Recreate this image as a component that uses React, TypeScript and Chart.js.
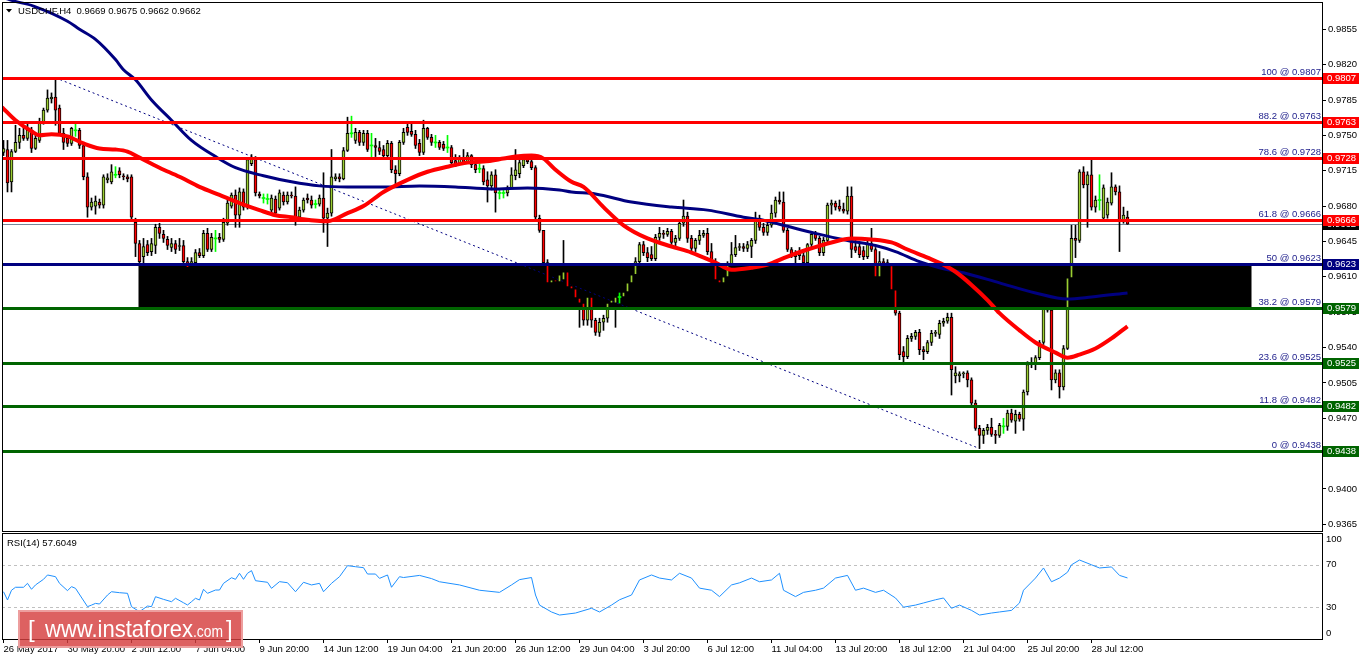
import React, { useEffect, useRef } from 'react';
import { Chart, registerables } from 'chart.js';

Chart.register(...registerables);

// ---------- Candles (USDCHF H4) ----------
const openP = [
  0.9733,0.9736,0.9704,0.9734,0.9743,0.9750,0.9747,0.9755,0.9737,0.9745,
  0.9763,0.9775,0.9786,0.9788,0.9777,0.9752,0.9747,0.9742,0.9755,0.9755,
  0.9740,0.9709,0.9679,0.9680,0.9684,0.9681,0.9706,0.9704,0.9711,0.9715,
  0.9710,0.9709,0.9709,0.9664,0.9643,0.9630,0.9642,0.9635,0.9641,0.9659,
  0.9652,0.9647,0.9639,0.9643,0.9640,0.9641,0.9625,0.9620,0.9624,0.9634,
  0.9631,0.9653,0.9637,0.9648,0.9649,0.9647,0.9663,0.9680,0.9691,0.9671,
  0.9694,0.9679,0.9722,0.9726,0.9692,0.9688,0.9687,0.9676,0.9687,0.9678,
  0.9691,0.9684,0.9691,0.9690,0.9669,0.9676,0.9688,0.9686,0.9682,0.9682,
  0.9688,0.9668,0.9673,0.9707,0.9709,0.9707,0.9735,0.9752,0.9745,0.9753,
  0.9743,0.9752,0.9740,0.9740,0.9738,0.9736,0.9730,0.9742,0.9716,0.9712,
  0.9743,0.9758,0.9754,0.9751,0.9742,0.9733,0.9757,0.9748,0.9743,0.9743,
  0.9741,0.9738,0.9738,0.9725,0.9722,0.9727,0.9723,0.9730,0.9721,0.9717,
  0.9717,0.9706,0.9700,0.9711,0.9693,0.9693,0.9693,0.9698,0.9710,0.9712,
  0.9720,0.9726,0.9724,0.9718,0.9668,0.9656,0.9624,0.9604,0.9607,0.9605,
  0.9607,0.9615,0.9601,0.9598,0.9589,0.9584,0.9567,0.9590,0.9567,0.9555,
  0.9565,0.9569,0.9584,0.9584,0.9590,0.9590,0.9595,0.9604,0.9612,0.9625,
  0.9642,0.9634,0.9632,0.9628,0.9649,0.9653,0.9652,0.9655,0.9644,0.9648,
  0.9663,0.9670,0.9648,0.9638,0.9646,0.9651,0.9653,0.9635,0.9625,0.9607,
  0.9604,0.9610,0.9622,0.9632,0.9639,0.9640,0.9638,0.9640,0.9646,0.9668,
  0.9659,0.9654,0.9661,0.9673,0.9686,0.9684,0.9656,0.9637,0.9632,0.9634,
  0.9631,0.9624,0.9642,0.9652,0.9648,0.9634,0.9646,0.9681,0.9683,0.9680,
  0.9677,0.9675,0.9690,0.9640,0.9640,0.9636,0.9630,0.9643,0.9637,0.9610,
  0.9625,0.9624,0.9621,0.9597,0.9574,0.9536,0.9531,0.9549,0.9551,0.9555,
  0.9538,0.9536,0.9545,0.9554,0.9553,0.9564,0.9566,0.9570,0.9512,0.9512,
  0.9514,0.9515,0.9508,0.9485,0.9460,0.9453,0.9458,0.9461,0.9454,0.9453,
  0.9462,0.9462,0.9475,0.9467,0.9474,0.9469,0.9496,0.9523,0.9524,0.9530,
  0.9545,0.9580,0.9577,0.9508,0.9515,0.9501,0.9539,0.9609,0.9648,0.9646,
  0.9714,0.9701,0.9711,0.9679,0.9686,0.9668,0.9671,0.9683,0.9699,0.9694,
  0.9666,0.9669
];
const highP = [
  0.9745,0.9745,0.9736,0.9760,0.9757,0.9760,0.9763,0.9758,0.9750,0.9767,
  0.9777,0.9795,0.9792,0.9807,0.9780,0.9757,0.9750,0.9758,0.9761,0.9757,
  0.9742,0.9713,0.9688,0.9690,0.9687,0.9711,0.9712,0.9721,0.9719,0.9718,
  0.9712,0.9711,0.9711,0.9668,0.9646,0.9648,0.9646,0.9648,0.9662,0.9663,
  0.9656,0.9650,0.9648,0.9646,0.9648,0.9646,0.9629,0.9629,0.9637,0.9638,
  0.9656,0.9658,0.9653,0.9656,0.9653,0.9668,0.9686,0.9693,0.9696,0.9698,
  0.9697,0.9728,0.9731,0.9729,0.9694,0.9692,0.9692,0.9691,0.9690,0.9696,
  0.9694,0.9694,0.9694,0.9699,0.9679,0.9688,0.9692,0.9690,0.9686,0.9691,
  0.9713,0.9678,0.9736,0.9712,0.9712,0.9738,0.9768,0.9769,0.9757,0.9755,
  0.9755,0.9755,0.9752,0.9747,0.9744,0.9740,0.9745,0.9744,0.9720,0.9745,
  0.9757,0.9762,0.9761,0.9755,0.9746,0.9765,0.9758,0.9751,0.9750,0.9745,
  0.9744,0.9750,0.9740,0.9731,0.9730,0.9736,0.9733,0.9731,0.9723,0.9722,
  0.9720,0.9714,0.9714,0.9716,0.9696,0.9696,0.9700,0.9718,0.9736,0.9726,
  0.9728,0.9729,0.9731,0.9720,0.9671,0.9656,0.9627,0.9611,0.9610,0.9617,
  0.9646,0.9619,0.9605,0.9599,0.9591,0.9587,0.9592,0.9594,0.9569,0.9569,
  0.9572,0.9587,0.9590,0.9592,0.9594,0.9597,0.9607,0.9614,0.9629,0.9644,
  0.9645,0.9639,0.9640,0.9652,0.9659,0.9656,0.9658,0.9657,0.9651,0.9666,
  0.9686,0.9674,0.9651,0.9648,0.9656,0.9656,0.9658,0.9643,0.9628,0.9609,
  0.9613,0.9625,0.9644,0.9651,0.9643,0.9643,0.9645,0.9648,0.9674,0.9671,
  0.9663,0.9664,0.9681,0.9689,0.9694,0.9694,0.9658,0.9639,0.9636,0.9639,
  0.9637,0.9643,0.9654,0.9655,0.9650,0.9649,0.9683,0.9686,0.9685,0.9686,
  0.9683,0.9699,0.9699,0.9646,0.9644,0.9640,0.9646,0.9658,0.9639,0.9635,
  0.9628,0.9627,0.9623,0.9599,0.9576,0.9541,0.9552,0.9554,0.9557,0.9558,
  0.9541,0.9547,0.9557,0.9557,0.9567,0.9569,0.9574,0.9574,0.9521,0.9516,
  0.9516,0.9517,0.9510,0.9488,0.9463,0.9460,0.9464,0.9470,0.9458,0.9465,
  0.9470,0.9478,0.9479,0.9478,0.9476,0.9498,0.9526,0.9530,0.9532,0.9547,
  0.9582,0.9583,0.9581,0.9518,0.9518,0.9542,0.9612,0.9661,0.9661,0.9716,
  0.9719,0.9714,0.9726,0.9690,0.9711,0.9701,0.9688,0.9713,0.9701,0.9700,
  0.9679,0.9675
];
const lowP = [
  0.9730,0.9694,0.9694,0.9733,0.9737,0.9745,0.9745,0.9733,0.9736,0.9743,
  0.9761,0.9773,0.9782,0.9760,0.9750,0.9736,0.9739,0.9740,0.9749,0.9737,
  0.9706,0.9669,0.9676,0.9672,0.9678,0.9678,0.9703,0.9702,0.9708,0.9708,
  0.9706,0.9704,0.9666,0.9630,0.9622,0.9622,0.9631,0.9631,0.9633,0.9648,
  0.9644,0.9637,0.9635,0.9633,0.9636,0.9621,0.9615,0.9617,0.9621,0.9629,
  0.9629,0.9635,0.9635,0.9635,0.9644,0.9645,0.9661,0.9678,0.9659,0.9659,
  0.9676,0.9677,0.9720,0.9690,0.9688,0.9683,0.9682,0.9672,0.9670,0.9676,
  0.9681,0.9682,0.9688,0.9661,0.9666,0.9674,0.9683,0.9678,0.9678,0.9680,
  0.9654,0.9640,0.9670,0.9705,0.9704,0.9706,0.9734,0.9748,0.9742,0.9740,
  0.9740,0.9734,0.9728,0.9729,0.9731,0.9728,0.9728,0.9713,0.9701,0.9710,
  0.9741,0.9750,0.9749,0.9737,0.9730,0.9731,0.9746,0.9740,0.9738,0.9736,
  0.9735,0.9733,0.9720,0.9719,0.9721,0.9721,0.9722,0.9718,0.9713,0.9713,
  0.9701,0.9684,0.9696,0.9674,0.9687,0.9688,0.9690,0.9697,0.9706,0.9708,
  0.9718,0.9722,0.9716,0.9666,0.9654,0.9622,0.9600,0.9601,0.9603,0.9602,
  0.9602,0.9597,0.9595,0.9586,0.9560,0.9562,0.9562,0.9560,0.9552,0.9551,
  0.9557,0.9565,0.9582,0.9560,0.9584,0.9585,0.9593,0.9602,0.9610,0.9622,
  0.9631,0.9625,0.9626,0.9626,0.9646,0.9648,0.9650,0.9642,0.9640,0.9646,
  0.9660,0.9644,0.9635,0.9635,0.9642,0.9649,0.9632,0.9622,0.9601,0.9602,
  0.9601,0.9608,0.9620,0.9630,0.9636,0.9635,0.9635,0.9629,0.9643,0.9656,
  0.9651,0.9651,0.9659,0.9669,0.9682,0.9654,0.9635,0.9629,0.9624,0.9627,
  0.9607,0.9607,0.9639,0.9646,0.9631,0.9631,0.9643,0.9672,0.9676,0.9675,
  0.9673,0.9672,0.9629,0.9634,0.9629,0.9627,0.9628,0.9635,0.9609,0.9607,
  0.9621,0.9619,0.9595,0.9572,0.9528,0.9523,0.9529,0.9546,0.9548,0.9533,
  0.9528,0.9534,0.9542,0.9551,0.9549,0.9561,0.9564,0.9493,0.9505,0.9506,
  0.9510,0.9501,0.9483,0.9458,0.9440,0.9445,0.9454,0.9452,0.9445,0.9451,
  0.9455,0.9458,0.9466,0.9455,0.9467,0.9458,0.9493,0.9520,0.9518,0.9528,
  0.9543,0.9575,0.9498,0.9505,0.9490,0.9498,0.9538,0.9607,0.9629,0.9644,
  0.9698,0.9659,0.9676,0.9674,0.9676,0.9666,0.9668,0.9681,0.9691,0.9635,
  0.9663,0.9662
];
const closeP = [
  0.9737,0.9703,0.9734,0.9743,0.9750,0.9747,0.9755,0.9737,0.9747,0.9762,
  0.9775,0.9787,0.9788,0.9775,0.9752,0.9743,0.9742,0.9757,0.9755,0.9740,
  0.9709,0.9679,0.9684,0.9685,0.9681,0.9709,0.9708,0.9714,0.9711,0.9711,
  0.9709,0.9707,0.9669,0.9643,0.9625,0.9640,0.9634,0.9643,0.9659,0.9653,
  0.9648,0.9641,0.9643,0.9637,0.9641,0.9625,0.9619,0.9625,0.9634,0.9631,
  0.9653,0.9637,0.9649,0.9648,0.9647,0.9664,0.9683,0.9691,0.9671,0.9694,
  0.9679,0.9726,0.9728,0.9693,0.9690,0.9688,0.9687,0.9688,0.9673,0.9693,
  0.9684,0.9691,0.9690,0.9669,0.9676,0.9686,0.9686,0.9681,0.9682,0.9688,
  0.9668,0.9673,0.9709,0.9709,0.9707,0.9735,0.9752,0.9752,0.9753,0.9743,
  0.9752,0.9736,0.9740,0.9738,0.9734,0.9730,0.9742,0.9716,0.9712,0.9743,
  0.9753,0.9753,0.9751,0.9740,0.9733,0.9757,0.9748,0.9743,0.9743,0.9738,
  0.9737,0.9738,0.9723,0.9722,0.9727,0.9723,0.9730,0.9721,0.9716,0.9717,
  0.9704,0.9700,0.9711,0.9693,0.9693,0.9693,0.9698,0.9711,0.9716,0.9723,
  0.9726,0.9724,0.9718,0.9669,0.9656,0.9624,0.9604,0.9607,0.9605,0.9612,
  0.9615,0.9600,0.9598,0.9589,0.9584,0.9567,0.9590,0.9567,0.9555,0.9565,
  0.9569,0.9584,0.9587,0.9590,0.9590,0.9595,0.9604,0.9612,0.9625,0.9642,
  0.9634,0.9629,0.9628,0.9649,0.9653,0.9652,0.9655,0.9644,0.9648,0.9663,
  0.9670,0.9648,0.9638,0.9646,0.9651,0.9653,0.9635,0.9625,0.9607,0.9604,
  0.9610,0.9622,0.9632,0.9639,0.9640,0.9638,0.9642,0.9646,0.9668,0.9659,
  0.9654,0.9661,0.9673,0.9686,0.9684,0.9656,0.9637,0.9632,0.9630,0.9631,
  0.9624,0.9642,0.9652,0.9648,0.9634,0.9646,0.9681,0.9683,0.9679,0.9677,
  0.9675,0.9690,0.9637,0.9636,0.9632,0.9630,0.9643,0.9637,0.9610,0.9625,
  0.9624,0.9621,0.9597,0.9574,0.9533,0.9531,0.9549,0.9551,0.9555,0.9538,
  0.9536,0.9545,0.9554,0.9555,0.9564,0.9566,0.9570,0.9518,0.9515,0.9514,
  0.9515,0.9508,0.9485,0.9460,0.9453,0.9458,0.9461,0.9454,0.9453,0.9463,
  0.9462,0.9475,0.9468,0.9474,0.9469,0.9496,0.9523,0.9525,0.9530,0.9545,
  0.9580,0.9577,0.9508,0.9515,0.9501,0.9539,0.9609,0.9648,0.9646,0.9714,
  0.9701,0.9711,0.9679,0.9686,0.9686,0.9698,0.9684,0.9699,0.9694,0.9666,
  0.9671,0.9662
];

// ---------- Moving averages (sampled at bar positions) ----------
const redMaIdx = [-0.375,3,7,9,12,16,20,24,28,31,34,39,44,49,54,59,64,68,72,75,81,86,90,95,101,106,111,116,120,125,128,132,135,138,142,145,150,155,161,167,172,178,182,187,191,196,201,207,212,217,222,226,231,235,238,242,246,249,254,258,263,266,269,273,277,281];
const redMaVal = [0.9778,0.9765,0.9754,0.9750,0.9751,0.9749,0.9742,0.9737,0.9736,0.9734,0.9728,0.9718,0.9709,0.9699,0.9691,0.9683,0.9676,0.9671,0.9669,0.9667,0.9665,0.9673,0.9680,0.9694,0.9706,0.9714,0.9719,0.9723,0.9724,0.9727,0.9729,0.9730,0.9727,0.9716,0.9704,0.9699,0.9679,0.9661,0.9648,0.9640,0.9634,0.9624,0.9617,0.9619,0.9622,0.9630,0.9637,0.9644,0.9648,0.9647,0.9644,0.9637,0.9629,0.9622,0.9615,0.9602,0.9587,0.9574,0.9557,0.9545,0.9535,0.9530,0.9533,0.9539,0.9549,0.9561];
const blueMaIdx = [-0.375,1,7.5,16,19,23,28,30,33,37,42,47,53,58,65,72,79,86,95,104,113,122,131,139,142,148,157,167,176,185,190,196,203,211,218,223,229,234,240,249,258,266,272,281];
const blueMaVal = [0.9888,0.9885,0.9878,0.9863,0.9855,0.9845,0.9825,0.9815,0.9805,0.9785,0.9765,0.9745,0.9729,0.9718,0.9710,0.9704,0.9700,0.9699,0.9699,0.9700,0.9699,0.9697,0.9698,0.9696,0.9694,0.9692,0.9684,0.9679,0.9676,0.9669,0.9666,0.9660,0.9653,0.9646,0.9641,0.9635,0.9625,0.9619,0.9614,0.9604,0.9594,0.9588,0.9590,0.9594];

// ---------- Trend line ----------
const trendIdx = [13, 244];
const trendVal = [0.9807, 0.9440];

// ---------- Fibonacci levels ----------
const fibPct = ['100', '88.2', '78.6', '61.8', '50', '38.2', '23.6', '11.8', '0'];
const fibVal = [0.9807, 0.9763, 0.9728, 0.9666, 0.9623, 0.9579, 0.9525, 0.9482, 0.9438];
const fibColor = ['#FF0000', '#FF0000', '#FF0000', '#FF0000', '#000080', '#006400', '#006400', '#006400', '#006400'];
const zoneIdx = [33.75, 312];
const zoneVal = [0.9623, 0.9579];
const currentPrice = 0.9662;

// ---------- Axes ----------
const yTicks = [0.9365, 0.9400, 0.9435, 0.9470, 0.9505, 0.9540, 0.9575, 0.9610, 0.9645, 0.9680, 0.9715, 0.9750, 0.9785, 0.9820, 0.9855];
const xTickIdx = [0, 16, 32, 48, 64, 80, 96, 112, 128, 144, 160, 176, 192, 208, 224, 240, 256, 272];
const xTickLabels = ['26 May 2017', '30 May 20:00', '2 Jun 12:00', '7 Jun 04:00', '9 Jun 20:00', '14 Jun 12:00', '19 Jun 04:00', '21 Jun 20:00', '26 Jun 12:00', '29 Jun 04:00', '3 Jul 20:00', '6 Jul 12:00', '11 Jul 04:00', '13 Jul 20:00', '18 Jul 12:00', '21 Jul 04:00', '25 Jul 20:00', '28 Jul 12:00'];

// ---------- RSI(14) ----------
const rsiIdx = [0,1,2,3,5,6,7,8,10,11,13,14,16,17,18,21,22,23,24,26,27,29,31,32,34,36,37,38,40,42,43,45,46,47,48,49,50,51,53,54,55,57,58,59,60,61,62,63,66,67,69,71,73,75,77,79,80,82,84,86,88,90,91,93,94,96,97,99,100,104,107,109,114,119,124,127,129,132,133,134,137,139,143,147,149,152,154,157,159,162,164,167,169,172,174,177,179,182,184,187,189,192,194,195,198,200,203,205,208,211,213,215,218,220,223,225,228,230,233,235,237,239,242,244,247,249,252,254,255,258,260,262,264,266,267,269,272,274,277,279,281];
const rsiVal = [44.6,36.8,46,48.8,48.8,52.5,46.9,51,56.3,60.4,58.8,52.5,45.6,49.4,47.8,30.5,32,33.6,33,41.5,44.6,43.7,43.1,30.5,25.8,31.1,30.5,39.9,37.4,35.2,38.4,34.2,32.1,35.2,38.4,36.8,46.9,43.1,46.2,46.2,52.5,57.8,56.3,62,56.3,62,64.5,55,53.5,47.8,54.1,53.1,44.6,53.5,51,52.5,44.6,52.5,58.8,69.2,68.2,67.3,61.3,61.3,57.2,60.4,48.8,58.8,58,60,57,54,51,46,44,51,56,58,41.5,32,25.5,22.6,24.5,29,25.5,32,37,41.5,55.7,60.4,57.5,55.7,62,57.5,48,46,40,51,53,57.5,54,55.7,62,46,40,44,46,48,57.5,60,46,48,44,46,38.7,30,32,34,37,38.7,29,32,27,22.6,24.5,25.5,27,34,46,57.5,67,54,57.5,63,70,74.5,70,67,68,60,57.6];
const rsiLevels = [70, 30];
const rsiAxisValues = [100, 70, 30, 0];

const headerText = 'USDCHF,H4  0.9669 0.9675 0.9662 0.9662';
const rsiTitle = 'RSI(14) 57.6049';

const FONT = '"Liberation Sans", Arial, sans-serif';
const bullColor = '#9ACD32';
const bearColor = '#FF0000';
const dojiColor = '#00FF00';

export default function App() {
  const mainRef = useRef<HTMLCanvasElement>(null);
  const rsiRef = useRef<HTMLCanvasElement>(null);

  useEffect(() => {
    document.body.style.margin = '0';
    Chart.defaults.font.family = FONT;

    const idx = openP.map((_, i) => i);
    const isDoji = (i: number) => openP[i] === closeP[i];
    const wickData = idx.map((i) => ({ x: i, y: [lowP[i], highP[i]] }));
    const bodyData = idx.map((i) =>
      isDoji(i)
        ? { x: i, y: [openP[i] - 0.00005, openP[i] + 0.00005] }
        : { x: i, y: [Math.min(openP[i], closeP[i]), Math.max(openP[i], closeP[i])] }
    );

    const mainPlugin = {
      id: 'mainDeco',
      beforeDatasetsDraw(chart: any) {
        const { ctx, chartArea: a, scales } = chart;
        const x = scales.x, y = scales.y;
        ctx.save();
        const zx1 = x.getPixelForValue(zoneIdx[0]);
        const zx2 = Math.min(x.getPixelForValue(zoneIdx[1]), a.right);
        const zy1 = Math.round(y.getPixelForValue(zoneVal[0]));
        const zy2 = Math.round(y.getPixelForValue(zoneVal[1])) + 2;
        ctx.fillStyle = '#000';
        ctx.fillRect(zx1, zy1, zx2 - zx1, zy2 - zy1);
        const cy = Math.round(y.getPixelForValue(currentPrice)) + 0.5;
        ctx.strokeStyle = '#778899';
        ctx.lineWidth = 1;
        ctx.beginPath();
        ctx.moveTo(a.left, cy);
        ctx.lineTo(a.right, cy);
        ctx.stroke();
        ctx.restore();
      },
      afterDatasetsDraw(chart: any) {
        const { ctx, chartArea: a, scales } = chart;
        const y = scales.y;
        ctx.save();
        fibVal.forEach((v, k) => {
          const py = Math.round(y.getPixelForValue(v));
          ctx.fillStyle = fibColor[k];
          ctx.fillRect(a.left, py - 1, a.right - a.left, 3);
        });
        ctx.font = '9.5px ' + FONT;
        ctx.textAlign = 'right';
        ctx.textBaseline = 'alphabetic';
        ctx.fillStyle = '#1C1C8A';
        fibVal.forEach((v, k) => {
          const py = Math.round(y.getPixelForValue(v));
          ctx.fillText(fibPct[k] + ' @ ' + v.toFixed(4), a.right - 1, py - 3);
        });
        // panel border
        ctx.strokeStyle = '#000';
        ctx.lineWidth = 1;
        ctx.strokeRect(a.left + 0.5, a.top + 0.5, a.right - a.left, a.bottom - a.top);
        // header
        ctx.fillStyle = '#000';
        ctx.beginPath();
        ctx.moveTo(6, 9);
        ctx.lineTo(12, 9);
        ctx.lineTo(9, 12.5);
        ctx.closePath();
        ctx.fill();
        ctx.textAlign = 'left';
        ctx.font = '9.5px ' + FONT;
        ctx.fillText(headerText, 18, 13.5);
        ctx.restore();
      },
      afterDraw(chart: any) {
        const { ctx, chartArea: a, scales } = chart;
        const y = scales.y;
        ctx.save();
        ctx.font = '9.5px ' + FONT;
        ctx.textAlign = 'left';
        ctx.textBaseline = 'middle';
        const tag = (v: number, color: string) => {
          const py = Math.round(y.getPixelForValue(v));
          ctx.fillStyle = color;
          ctx.fillRect(a.right + 1, py - 5, 36, 11);
          ctx.fillStyle = '#fff';
          ctx.fillText(v.toFixed(4), a.right + 5, py + 0.5);
        };
        tag(currentPrice, '#000');
        fibVal.forEach((v, k) => tag(v, fibColor[k]));
        ctx.restore();
      },
    };

    const main = new Chart(mainRef.current as HTMLCanvasElement, {
      type: 'bar',
      data: {
        datasets: [
          {
            type: 'line',
            data: redMaIdx.map((x, k) => ({ x, y: redMaVal[k] })),
            borderColor: '#FF0000',
            borderWidth: 4,
            pointRadius: 0,
            cubicInterpolationMode: 'monotone',
            order: 0,
          } as any,
          {
            type: 'line',
            data: blueMaIdx.map((x, k) => ({ x, y: blueMaVal[k] })),
            borderColor: '#000080',
            borderWidth: 3,
            pointRadius: 0,
            cubicInterpolationMode: 'monotone',
            clip: { left: 0, top: 3, right: 0, bottom: 0 },
            order: 1,
          } as any,
          {
            type: 'bar',
            data: bodyData,
            barThickness: 3,
            grouped: false,
            borderSkipped: false,
            backgroundColor: (c: any) => (isDoji(c.dataIndex) ? dojiColor : closeP[c.dataIndex] > openP[c.dataIndex] ? bullColor : bearColor),
            borderColor: '#000',
            borderWidth: (c: any) => (isDoji(c.dataIndex) ? 0 : 1),
            order: 2,
          } as any,
          {
            type: 'bar',
            data: wickData,
            barThickness: 1,
            grouped: false,
            borderWidth: 0,
            backgroundColor: (c: any) => (isDoji(c.dataIndex) ? dojiColor : '#000'),
            order: 3,
          } as any,
          {
            type: 'line',
            data: trendIdx.map((x, k) => ({ x, y: trendVal[k] })),
            borderColor: '#000080',
            borderWidth: 1,
            borderDash: [2, 3],
            pointRadius: 0,
            order: 4,
          } as any,
        ],
      },
      options: {
        responsive: false,
        animation: false,
        devicePixelRatio: 1,
        layout: { padding: { left: 2, top: 2, right: 0, bottom: 2 } },
        plugins: { legend: { display: false }, tooltip: { enabled: false } },
        events: [],
        scales: {
          x: { type: 'linear', min: -0.375, max: 329.625, display: false, offset: false },
          y: {
            type: 'linear',
            position: 'right',
            min: 0.93584,
            max: 0.9882,
            afterFit: (s: any) => { s.width = 40; s.paddingTop = 0; s.paddingBottom = 0; },
            afterBuildTicks: (s: any) => { s.ticks = yTicks.map((v) => ({ value: v })); },
            ticks: {
              autoSkip: false,
              padding: 2,
              color: '#000',
              font: { size: 9.5 },
              callback: (v: any) => Number(v).toFixed(4),
            },
            grid: { drawOnChartArea: false, drawTicks: true, tickLength: 4, color: '#000' },
            border: { display: false },
          },
        },
      } as any,
      plugins: [mainPlugin],
    });

    const rsiPlugin = {
      id: 'rsiDeco',
      beforeDatasetsDraw(chart: any) {
        const { ctx, chartArea: a, scales } = chart;
        const y = scales.y;
        ctx.save();
        ctx.strokeStyle = '#C0C0C0';
        ctx.lineWidth = 1;
        ctx.setLineDash([3, 3]);
        rsiLevels.forEach((lv) => {
          const py = Math.round(y.getPixelForValue(lv)) + 0.5;
          ctx.beginPath();
          ctx.moveTo(a.left, py);
          ctx.lineTo(a.right, py);
          ctx.stroke();
        });
        ctx.restore();
      },
      afterDatasetsDraw(chart: any) {
        const { ctx, chartArea: a, scales } = chart;
        const y = scales.y;
        ctx.save();
        ctx.strokeStyle = '#000';
        ctx.lineWidth = 1;
        ctx.strokeRect(a.left + 0.5, a.top + 0.5, a.right - a.left, a.bottom - a.top);
        ctx.fillStyle = '#000';
        ctx.font = '9.5px ' + FONT;
        ctx.textAlign = 'left';
        ctx.textBaseline = 'middle';
        ctx.fillText(rsiTitle, 7, 10);
        rsiAxisValues.forEach((v) => {
          let py = y.getPixelForValue(v);
          py = Math.max(a.top + 6, Math.min(a.bottom - 6, py));
          ctx.fillText(String(v), a.right + 4, py);
        });
        ctx.restore();
      },
      afterDraw(chart: any) {
        const { ctx } = chart;
        ctx.save();
        ctx.fillStyle = 'rgba(214,62,62,0.82)';
        ctx.fillRect(18, 77, 225, 38);
        ctx.strokeStyle = 'rgba(240,165,165,0.9)';
        ctx.lineWidth = 2;
        ctx.strokeRect(19, 78, 223, 36);
        ctx.fillStyle = '#fff';
        ctx.textAlign = 'left';
        ctx.textBaseline = 'alphabetic';
        ctx.font = '24px ' + FONT;
        ctx.fillText('[', 28, 104);
        ctx.fillText('www.instaforex', 45, 104, 148);
        ctx.font = '17px ' + FONT;
        ctx.fillText('.com', 193, 104, 30);
        ctx.font = '24px ' + FONT;
        ctx.fillText(']', 226, 104);
        ctx.restore();
      },
    };

    const rsi = new Chart(rsiRef.current as HTMLCanvasElement, {
      type: 'line',
      data: {
        datasets: [
          {
            data: rsiIdx.map((x, k) => ({ x, y: rsiVal[k] })),
            borderColor: '#1E90FF',
            borderWidth: 1,
            pointRadius: 0,
            tension: 0,
          },
        ],
      },
      options: {
        responsive: false,
        animation: false,
        devicePixelRatio: 1,
        layout: { padding: { left: 2, top: 0, right: 0, bottom: 0 } },
        plugins: { legend: { display: false }, tooltip: { enabled: false } },
        events: [],
        scales: {
          x: {
            type: 'linear',
            min: -0.375,
            max: 329.625,
            position: 'bottom',
            offset: false,
            afterFit: (s: any) => { s.height = 22; s.paddingLeft = 0; s.paddingRight = 0; },
            afterBuildTicks: (s: any) => { s.ticks = xTickIdx.map((v) => ({ value: v })); },
            ticks: {
              autoSkip: false,
              maxRotation: 0,
              minRotation: 0,
              align: 'start',
              padding: 1,
              color: '#000',
              font: { size: 9.5 },
              callback: (_v: any, i: number) => xTickLabels[i],
            },
            grid: { drawOnChartArea: false, drawTicks: true, tickLength: 4, color: '#000' },
            border: { display: false },
          },
          y: {
            type: 'linear',
            position: 'right',
            min: 0,
            max: 100,
            afterFit: (s: any) => { s.width = 40; s.paddingTop = 0; s.paddingBottom = 0; },
            ticks: { display: false },
            grid: { display: false },
            border: { display: false },
          },
        },
      } as any,
      plugins: [rsiPlugin],
    });

    return () => {
      main.destroy();
      rsi.destroy();
    };
  }, []);

  return (
    <div style={{ position: 'relative', width: 1362, height: 661, background: '#fff', overflow: 'hidden' }}>
      <canvas ref={mainRef} width={1362} height={533} style={{ position: 'absolute', left: 0, top: 0, width: 1362, height: 533 }} />
      <canvas ref={rsiRef} width={1362} height={128} style={{ position: 'absolute', left: 0, top: 533, width: 1362, height: 128 }} />
    </div>
  );
}
